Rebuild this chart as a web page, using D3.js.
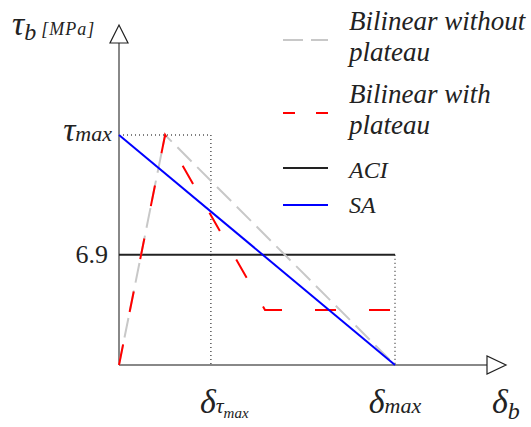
<!DOCTYPE html>
<html><head><meta charset="utf-8">
<script src="https://cdn.jsdelivr.net/npm/d3@7"></script>
</head><body style="margin:0;background:#fff"><svg id="c" width="531" height="427"></svg>
<script>
// Data (normalized slip δ/δmax, bond stress τ in MPa)
const tauMax = 14.4;
const tauACI = 6.9;
const deltaTauMax = 0.333;
const seriesNames = ["Bilinear without plateau", "Bilinear with plateau", "ACI", "SA"];
const bilinearNoPlateau = [{d:0,t:0},{d:0.167,t:14.4},{d:1,t:0}];
const bilinearPlateau = [{d:0,t:0},{d:0.167,t:14.4},{d:0.529,t:3.45},{d:1,t:3.45}];
const aci = [{d:0,t:6.9},{d:1,t:6.9}];
const sa = [{d:0,t:14.4},{d:1,t:0}];

const FF = 'Tinos, FreeSerif, "Liberation Serif", "DejaVu Serif", serif';
const svg = d3.select("#c");
const x = d3.scaleLinear().domain([0,1]).range([119,395]);
const y = d3.scaleLinear().domain([0,tauMax]).range([365,135]);
const line = d3.line().x(p=>x(p.d)).y(p=>y(p.t));
function txt(xx,yy,fs,upright){return svg.append("text").attr("x",xx).attr("y",yy).attr("font-size",fs)
  .attr("font-family",FF).attr("font-style",upright?"normal":"italic").attr("fill","#222");}

const dot = {stroke:"#000","stroke-width":1,"stroke-dasharray":"1,3"};
function gl(x1,y1,x2,y2,att){const l=svg.append("line").attr("x1",x1).attr("y1",y1).attr("x2",x2).attr("y2",y2);for(const k in att)l.attr(k,att[k]);return l;}
gl(x(0),y(tauMax),x(deltaTauMax),y(tauMax),dot);
gl(x(deltaTauMax),y(tauMax),x(deltaTauMax),y(0),dot);
gl(x(1),y(tauACI),x(1),y(0),dot);

// axes
const axc="#888";
gl(x(0),y(0),x(0),43,{stroke:axc,"stroke-width":2});
gl(x(0),y(0),487,y(0),{stroke:axc,"stroke-width":2});
svg.append("path").attr("d",`M110,43 L128,43 L119,25 Z`).attr("fill","#fff").attr("stroke","#222").attr("stroke-width",1.2);
svg.append("path").attr("d",`M487,356 L487,374 L506,365 Z`).attr("fill","#fff").attr("stroke","#222").attr("stroke-width",1.2);

// series
svg.append("path").datum(aci).attr("d",line).attr("fill","none").attr("stroke","#222").attr("stroke-width",2);
svg.append("path").datum(bilinearNoPlateau).attr("d",line).attr("fill","none").attr("stroke","#c8c8c8").attr("stroke-width",2).attr("stroke-dasharray","20,8");
svg.append("path").datum(bilinearPlateau).attr("d",line).attr("fill","none").attr("stroke","#ff0000").attr("stroke-width",2).attr("stroke-dasharray","21,33");
svg.append("path").datum(sa).attr("d",line).attr("fill","none").attr("stroke","#0000ff").attr("stroke-width",2);

// legend
const leg=[{c:"#c8c8c8",da:"20,8",y:40,lines:["Bilinear without","plateau"],ty:30,fs:27},
           {c:"#ff0000",da:"12,21",y:113,lines:["Bilinear with","plateau"],ty:103,fs:27},
           {c:"#222",da:null,y:168,lines:["ACI"],ty:178,fs:24},
           {c:"#0000ff",da:null,y:205,lines:["SA"],ty:213,fs:24}];
leg.forEach(L=>{
  const l=gl(283,L.y,328,L.y,{stroke:L.c,"stroke-width":2});
  if(L.da)l.attr("stroke-dasharray",L.da);
  L.lines.forEach((s,j)=>txt(349,L.ty+j*31,L.fs).text(s));
});

// axis labels
const t1=txt(12,35,34);
t1.append("tspan").text("τ");t1.append("tspan").attr("font-size",24).attr("dy",5).text("b");
t1.append("tspan").attr("font-size",18).attr("dy",-5).attr("dx",5).attr("letter-spacing",1).text("[MPa]");
const t2=txt(112,y(tauMax)+6,34).attr("text-anchor","end");
t2.append("tspan").text("τ");t2.append("tspan").attr("font-size",22).text("max");
txt(108,y(tauACI)+8,26,true).attr("text-anchor","end").text("6.9");
const t3=txt(x(deltaTauMax)-11,413,34);
t3.append("tspan").text("δ");t3.append("tspan").attr("font-size",22).text("τ");t3.append("tspan").attr("font-size",15).attr("dy",5).text("max");
const t4=txt(x(1),413,34).attr("text-anchor","middle");
t4.append("tspan").text("δ");t4.append("tspan").attr("font-size",22).text("max");
const t5=txt(492,413,34);
t5.append("tspan").text("δ");t5.append("tspan").attr("font-size",24).attr("dy",6).text("b");
</script></body></html>
